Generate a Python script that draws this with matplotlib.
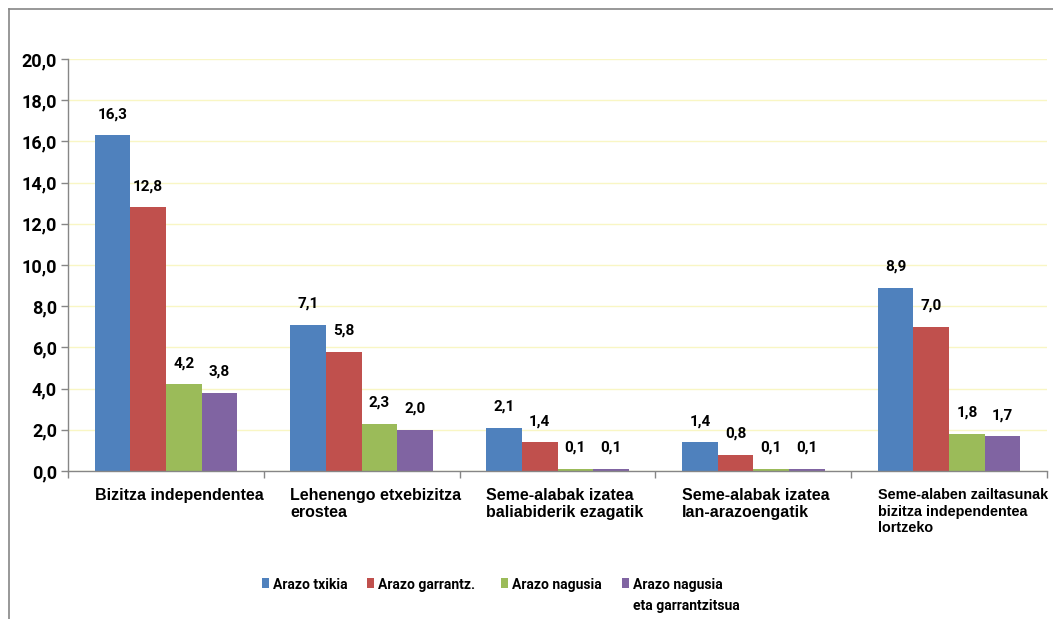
import matplotlib
matplotlib.use("Agg")
import matplotlib.pyplot as plt
from matplotlib.patches import Rectangle
from matplotlib.lines import Line2D
from matplotlib.ticker import FuncFormatter, FixedLocator
import numpy as np

categories = [
    "Bizitza independentea",
    "Lehenengo etxebizitza\nerostea",
    "Seme-alabak izatea\nbaliabiderik ezagatik",
    "Seme-alabak izatea\nlan-arazoengatik",
    "Seme-alaben zailtasunak\nbizitza independentea\nlortzeko",
]
series_names = ["Arazo txikia", "Arazo garrantz.", "Arazo nagusia", "Arazo nagusia\neta garrantzitsua"]
arazo_txikia = [16.3, 7.1, 2.1, 1.4, 8.9]
arazo_garrantz = [12.8, 5.8, 1.4, 0.8, 7.0]
arazo_nagusia = [4.2, 2.3, 0.1, 0.1, 1.8]
arazo_nagusia_garr = [3.8, 2.0, 0.1, 0.1, 1.7]
yticks = [0, 2, 4, 6, 8, 10, 12, 14, 16, 18, 20]

series = [arazo_txikia, arazo_garrantz, arazo_nagusia, arazo_nagusia_garr]
colors = ["#4F81BD", "#C0504D", "#9BBB59", "#8064A2"]

W, H = 1053, 619
fig = plt.figure(figsize=(W / 100, H / 100), dpi=100)
ax = fig.add_axes([68 / W, 1 - 471 / H, (1047 - 68) / W, (471 - 59) / H])

num_font = "Roboto"
cat_font = "Liberation Sans"

x = np.arange(len(categories))
bw = 0.182
for k, (vals, col) in enumerate(zip(series, colors)):
    pos = x + (k - 1.5) * bw
    bars = ax.bar(pos, vals, width=bw, color=col, zorder=3, linewidth=0)
    for b, v in zip(bars, vals):
        ax.annotate(f"{v:.1f}".replace(".", ","),
                    xy=(b.get_x() + b.get_width() / 2, b.get_height()),
                    xytext=(0, 10), textcoords="offset points",
                    ha="center", va="bottom", fontsize=11,
                    fontweight="bold", family=num_font, color="black")

ax.set_xlim(-0.5, len(categories) - 0.5)
ax.set_ylim(0, 20)
ax.yaxis.set_major_locator(FixedLocator(yticks))
ax.yaxis.set_major_formatter(FuncFormatter(lambda v, p: f"{v:.1f}".replace(".", ",")))
ax.set_xticks(np.arange(len(categories) + 1) - 0.5)
ax.set_xticklabels([])
ax.tick_params(axis="both", direction="out", length=5, width=1, color="#868686")
ax.tick_params(axis="y", pad=3)
for lab in ax.get_yticklabels():
    lab.set_fontfamily(num_font)
    lab.set_fontweight("bold")
    lab.set_fontsize(13)

ax.grid(axis="y", color="#f9f6c4", linewidth=1, zorder=0)
ax.grid(axis="x", visible=False)
for s in ["top", "right"]:
    ax.spines[s].set_visible(False)
for s in ["left", "bottom"]:
    ax.spines[s].set_color("#868686")
    ax.spines[s].set_linewidth(1)
    ax.spines[s].set_zorder(4)

cat_sizes = [11.5, 11.5, 11.5, 11.5, 10.4]
for i, (cat, fs) in enumerate(zip(categories, cat_sizes)):
    ax.annotate(cat, xy=(i - 2 * bw, 0), xycoords=("data", "axes fraction"),
                xytext=(0, -12.5), textcoords="offset points",
                ha="left", va="top", fontsize=fs, fontweight="bold",
                family=cat_font, linespacing=1.2 if fs < 11 else 1.13,
                color="black")

# legend (manual)
leg_marker_x = [262, 367, 501, 622]
for name, col, mx in zip(series_names, colors, leg_marker_x):
    fig.add_artist(Rectangle((mx / W, 1 - 588 / H), 7 / W, 10 / H,
                             transform=fig.transFigure, facecolor=col,
                             edgecolor="none"))
    for j, line in enumerate(name.split("\n")):
        fig.text((mx + 11) / W, 1 - (589 + 21 * j) / H, line, ha="left",
                 va="baseline", fontsize=10, fontweight="bold",
                 family=num_font, color="black")

# outer frame
fig.add_artist(Line2D([9 / W, 1.0], [1 - 8.5 / H, 1 - 8.5 / H],
                      transform=fig.transFigure, color="#868686", linewidth=1.2))
fig.add_artist(Line2D([9 / W, 9 / W], [0, 1 - 8.5 / H],
                      transform=fig.transFigure, color="#868686", linewidth=1.2))

fig.savefig("out.png", dpi=100)
